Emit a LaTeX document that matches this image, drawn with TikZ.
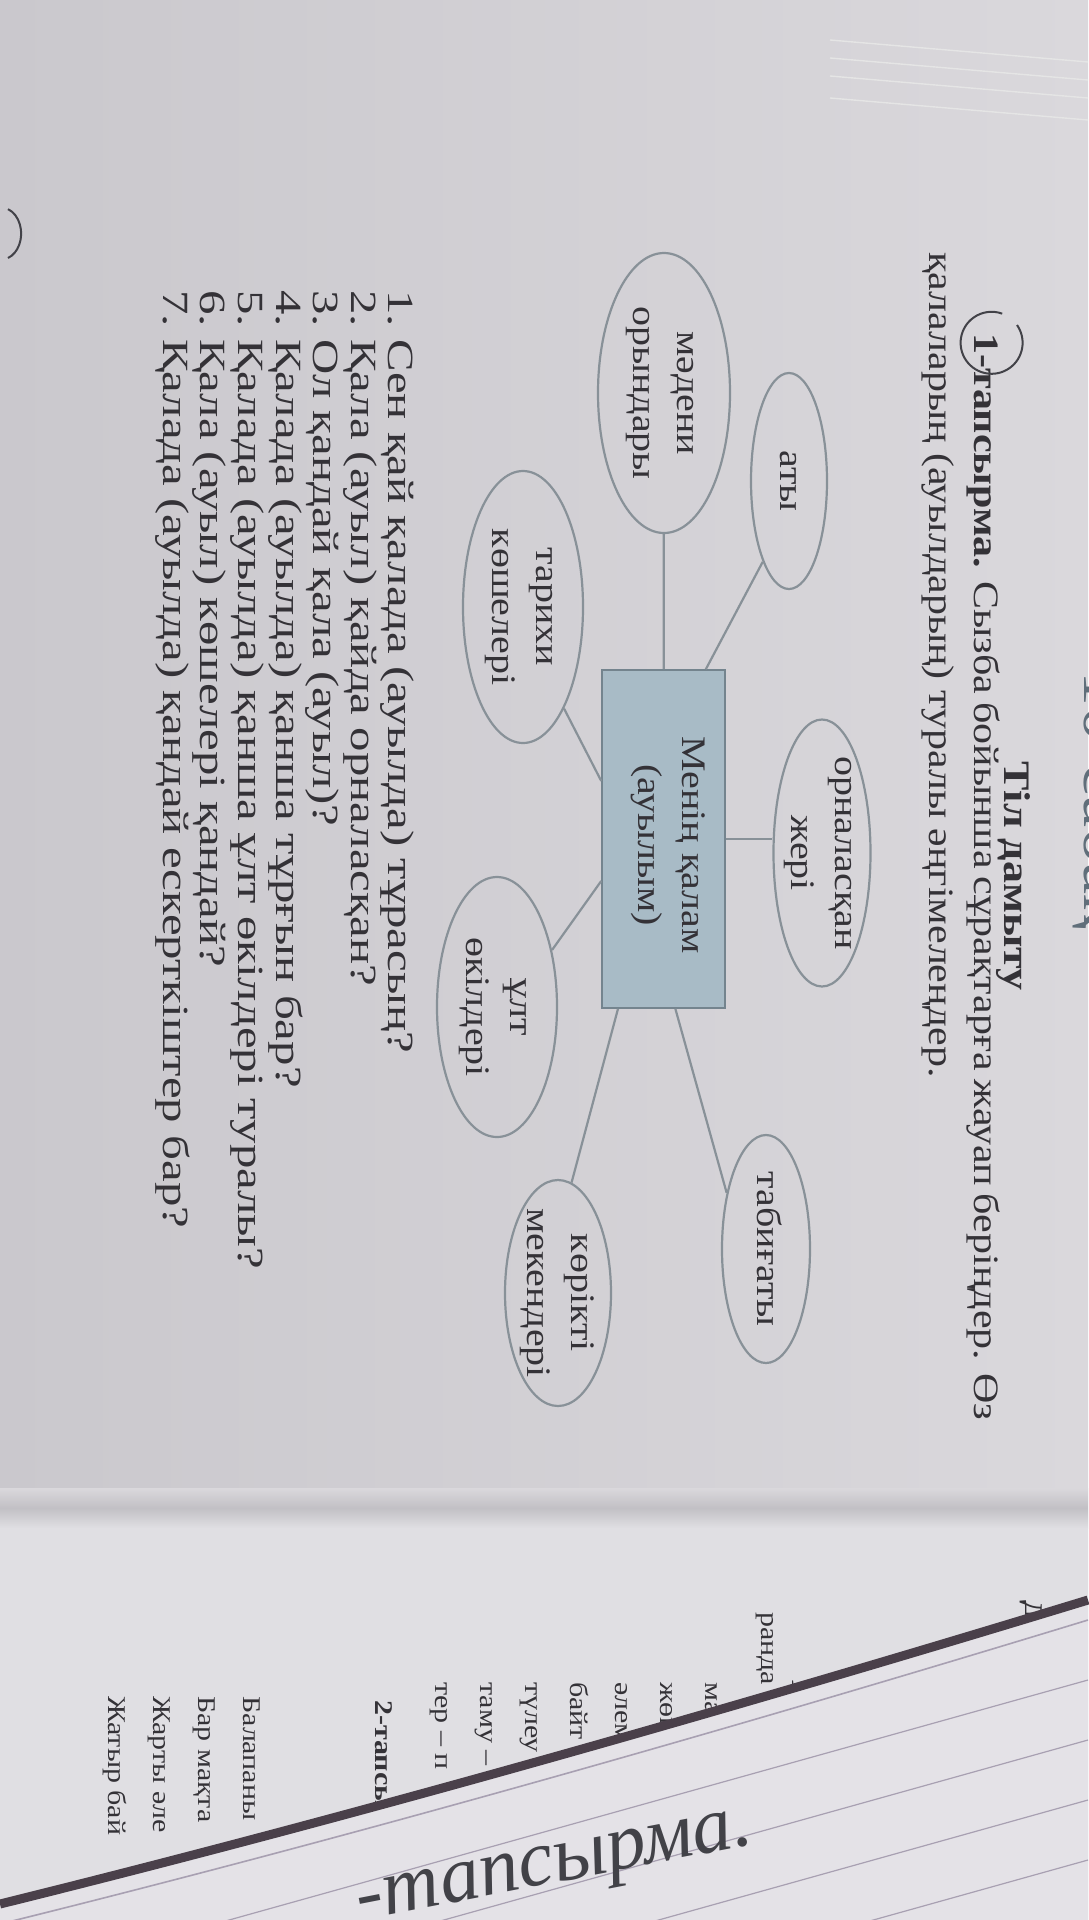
\documentclass[tikz,border=0pt]{standalone}
\usepackage{fontspec}
\setmainfont{Liberation Serif}
\usepackage{graphicx}
\usetikzlibrary{calc,shapes.geometric,positioning}
\definecolor{pageLeft}{RGB}{202,200,205}
\definecolor{pageRight}{RGB}{218,216,220}
\definecolor{pageNext}{RGB}{224,223,227}
\definecolor{inkgray}{RGB}{52,50,55}
\definecolor{headblue}{RGB}{96,110,122}
\definecolor{linegray}{RGB}{136,145,152}
\definecolor{boxblue}{RGB}{168,187,198}
\definecolor{boxedge}{RGB}{116,132,142}
\definecolor{edgedark}{RGB}{74,64,74}
\definecolor{notewhite}{RGB}{228,226,231}
\definecolor{rulepurple}{RGB}{168,160,178}
\definecolor{pencil}{RGB}{66,66,72}
\newcommand{\headfont}{\fontsize{42}{52}\selectfont}
\newcommand{\nextfont}{\fontsize{30}{36}\selectfont}
\newcommand{\qfont}{\fontsize{44}{44}\selectfont}
\newcommand{\bubfont}{\fontsize{40}{51}\selectfont}
\newcommand{\vtext}[1]{\rotatebox{-90}{\scalebox{1}[0.86]{\begin{tabular}{@{}c@{}}#1\end{tabular}}}}
\newcommand{\squash}[1]{\scalebox{1}[0.85]{#1}}

\begin{document}
\begin{tikzpicture}[x=1pt,y=-1pt,
  bubble/.style={ellipse, draw=linegray, line width=2.2pt, inner sep=-40pt, text=inkgray, font=\bubfont},
  citybox/.style={rectangle, draw=boxedge, fill=boxblue, line width=1.6pt, inner sep=0pt},
  link/.style={linegray, line width=2.2pt},
  rowtext/.style={rotate=-90, anchor=west, inner sep=0pt, text=inkgray, text height=0.6em, text depth=0.17em},
  pagestack/.style={draw=white!80!gray, line width=1.4pt}]
\useasboundingbox (0,0) rectangle (1088,1920);
\shade[left color=pageLeft, right color=pageRight] (0,0) rectangle (1088,1920);
\fill[pageNext] (0,1515) rectangle (1088,1920);

% edges of the pages under the open one
\foreach \d in {40,58,76,98}{
  \draw[pagestack] (830,\d) -- (1088,\d+22);
}
% gutter shadow
\shade[top color=pageRight, bottom color=pageNext, middle color=pageLeft!96!black] (0,1488) rectangle (1088,1528);

% header
\node[rotate=-90, inner sep=0pt, text=headblue, font=\fontsize{70}{76}\selectfont] (lesson) at (1100,800) {\squash{10-сабақ}};
\node[rotate=-90, inner sep=0pt, text=inkgray, font=\fontsize{44}{50}\selectfont\bfseries] (topic) at (1013,876) {\squash{Тіл дамыту}};
\node[rowtext, font=\headfont] (task1) at (977,333) {\squash{\makebox[1087pt][s]{\textbf{1-тапсырма.} Сызба бойынша сұрақтарға жауап беріңдер. Өз}}};
\node[rowtext, font=\headfont] (task1b) at (932,252) {\squash{қалаларың (ауылдарың) туралы әңгімелеңдер.}};
\draw[pencil, line width=2pt] (1017,325) arc[start angle=-35, end angle=290, x radius=31, y radius=31];

% mind map
\node[citybox, minimum width=123pt, minimum height=338pt] (city) at (663.5,839) {};
\node[text=inkgray, font=\bubfont, inner sep=0pt] (citylabel) at ([xshift=6pt, yshift=-6pt]city.center) {\vtext{Менің қалам\\(ауылым)}};
\node[bubble, minimum width=132pt, minimum height=280pt] (madeni) at (664,393) {\vtext{мәдени\\орындары}};
\node[bubble, minimum width=76pt, minimum height=216pt] (aty) at (789,481) {\vtext{аты}};
\node[bubble, minimum width=97pt, minimum height=267pt] (orn) at (822,853) {\vtext{орналасқан\\жері}};
\node[bubble, minimum width=120pt, minimum height=272pt] (tarihi) at (523,607) {\vtext{тарихи\\көшелері}};
\node[bubble, minimum width=120pt, minimum height=260pt] (ult) at (497,1007) {\vtext{ұлт\\өкілдері}};
\node[bubble, minimum width=106pt, minimum height=226pt] (korikti) at (558,1293) {\vtext{көрікті\\мекендері}};
\node[bubble, minimum width=88pt, minimum height=228pt] (tabigat) at (766,1249) {\vtext{табиғаты}};

\draw[link] (madeni) -- (city);
\draw[link] (aty.252) -- (city.76);
\draw[link] (tarihi.292) -- (city.137);
\draw[link] (city.east) -- (city.east -| orn.west);
\draw[link] (city.214) -- (ult.46);
\draw[link] (city.255) -- (korikti.83);
\draw[link] (city.274) -- (tabigat.125);

% questions
\foreach \q [count=\i] in {{Сен қай қалада (ауылда) тұрасың?},
  {Қала (ауыл) қайда орналасқан?},
  {Ол қандай қала (ауыл)?},
  {Қалада (ауылда) қанша тұрғын бар?},
  {Қалада (ауылда) қанша ұлт өкілдері туралы?},
  {Қала (ауыл) көшелері қандай?},
  {Қалада (ауылда) қандай ескерткіштер бар?}}{
  \node[rowtext, font=\qfont] (q\i) at ({391-37.6*(\i-1)},290) {\scalebox{1.11}[0.84]{\i.\ \q}};
}
\draw[pencil, line width=2pt] (8,258) arc[start angle=70, end angle=-70, x radius=20, y radius=26];

% next page, cut by the notebook
\begin{scope}
\clip (0,1500) -- (1088,1500) -- (1088,1600) .. controls (760,1700) and (380,1810) .. (0,1904) -- cycle;
\node[rowtext, font=\nextfont\bfseries] (pg1) at (1028,1600) {\squash{Де}};
\node[rowtext, font=\nextfont] (pg2) at (764,1612) {\squash{ранда}};
\node[rowtext, font=\nextfont\bfseries] (pg3) at (795,1678) {\squash{1}};
\foreach \px/\w [count=\k] in {708/ма,663/жөк,618/әлем,573/байт,528/түлеу,483/таму –,438/тер – п}{
  \node[rowtext, font=\nextfont] (line\k) at (\px,1682) {\squash{\w}};
}
\node[rowtext, font=\nextfont\bfseries] (task2) at (378,1700) {\squash{2-тапсыр}};
\foreach \px/\w [count=\k] in {246/Балапаны,201/Бар мақта,156/Жарты әле,111/Жатыр бай}{
  \node[rowtext, font=\nextfont] (verse\k) at (\px,1696) {\squash{\w}};
}
\end{scope}

% notebook lying on top
\fill[notewhite] (1088,1600) .. controls (760,1700) and (380,1810) .. (0,1904) -- (0,1920) -- (1088,1920) -- cycle;
\draw[edgedark, line width=9pt] (1088,1600) .. controls (760,1700) and (380,1810) .. (0,1904);
\draw[rulepurple, line width=1.6pt] (1088,1620) .. controls (760,1720) and (380,1830) .. (0,1924);
\foreach \s in {60,120,180,240}{
  \draw[rulepurple, line width=1.2pt] (1088,1620+\s) -- (0,1924+\s);
}
\node[rotate=11, text=pencil, inner sep=0pt, font=\fontsize{80}{80}\selectfont\itshape] (hand) at (556,1872) {-тапсырма.};
\end{tikzpicture}
\end{document}
